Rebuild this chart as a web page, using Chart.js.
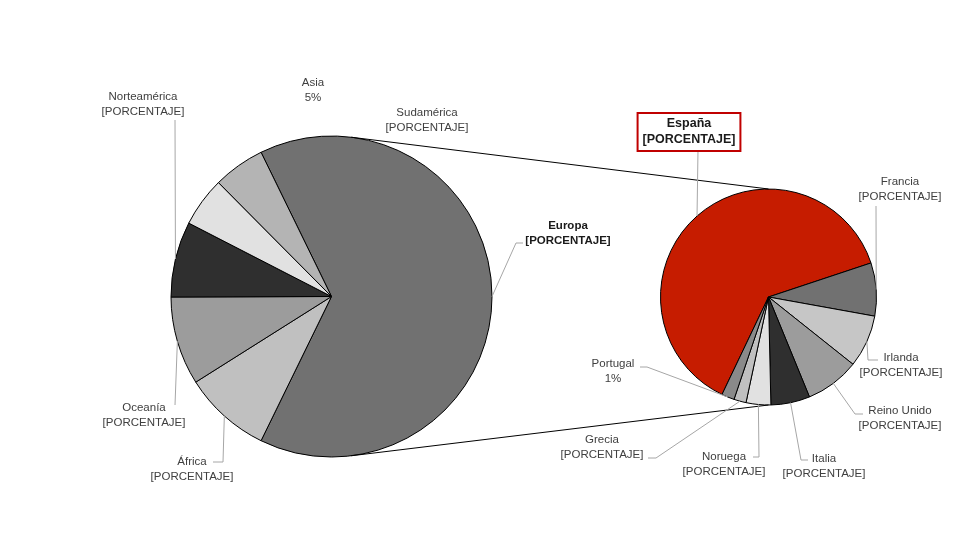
<!DOCTYPE html>
<html><head><meta charset="utf-8">
<script src="https://cdn.jsdelivr.net/npm/chart.js@4.4.0/dist/chart.umd.min.js"></script>
<style>
html,body{margin:0;padding:0;background:#fff;}
#wrap{position:relative;width:980px;height:560px;overflow:hidden;}
#wrap canvas{position:absolute;left:0;top:0;}
</style></head><body>
<div id="wrap"><canvas id="c1" width="980" height="560"></canvas><canvas id="c2" width="980" height="560"></canvas></div>
<script>
// ---- DATA ----
// Main pie (Europa = sum of the secondary pie)
const regionLabels = ['África', 'Oceanía', 'Norteamérica', 'Sudamérica', 'Asia'];
const regionValues = [8.8, 8.9, 7.6, 5.0, 5.2];
const regionValueText = ['[PORCENTAJE]', '[PORCENTAJE]', '[PORCENTAJE]', '[PORCENTAJE]', '5%'];
const europaLabel = 'Europa';
const europaValueText = '[PORCENTAJE]';
// Secondary pie: Europe breakdown
const europeLabels = ['España', 'Francia', 'Irlanda', 'Reino Unido', 'Italia', 'Noruega', 'Grecia', 'Portugal'];
const europeValues = [40.45, 5.12, 5.06, 5.22, 3.76, 2.38, 1.18, 1.23];
const europeValueText = ['[PORCENTAJE]', '[PORCENTAJE]', '[PORCENTAJE]', '[PORCENTAJE]', '[PORCENTAJE]', '[PORCENTAJE]', '[PORCENTAJE]', '1%'];

// ---- STYLE ----
const europaColor = '#717171';
const regionColors = ['#c0c0c0', '#9c9c9c', '#2f2f2f', '#e1e1e1', '#b4b4b4'];
const europeColors = ['#c61c00', '#717171', '#c6c6c6', '#9c9c9c', '#2f2f2f', '#e1e1e1', '#c0c0c0', '#8a8a8a'];

const europaValue = europeValues.reduce((a, b) => a + b, 0);
const mainLabels = [europaLabel].concat(regionLabels);
const mainValues = [europaValue].concat(regionValues);
const mainTotal = mainValues.reduce((a, b) => a + b, 0);
const mainRotation = 90 - (europaValue / mainTotal) * 180;

// label layout (text centre of first line, leader points from label side toward slice)
const FONT = '"Liberation Sans", Arial, sans-serif';
const labelLayout = {
  'Norteamérica': { at: [143, 97], lead: [[175, 120]] },
  'Asia': { at: [313, 83], lead: null },
  'Sudamérica': { at: [427, 113], lead: null },
  'Europa': { at: [568, 226], lead: [[523, 243], [516, 243]], bold: true, size: 11.5 },
  'Oceanía': { at: [144, 408], lead: [[175, 405]] },
  'África': { at: [192, 462], lead: [[213, 462], [223, 462]] },
  'España': { at: [689, 124], lead: [[698, 150]], bold: true, size: 12.5, box: true },
  'Francia': { at: [900, 182], lead: [[876, 206]] },
  'Irlanda': { at: [901, 358], lead: [[878, 360], [868, 360]] },
  'Reino Unido': { at: [900, 411], lead: [[863, 414], [855, 414]] },
  'Italia': { at: [824, 459], lead: [[808, 460], [801, 460]] },
  'Noruega': { at: [724, 457], lead: [[753, 457], [759, 457]] },
  'Grecia': { at: [602, 440], lead: [[648, 458], [656, 458]] },
  'Portugal': { at: [613, 364], lead: [[640, 367], [647, 367]] }
};

function midPoint(arc) {
  const m = (arc.startAngle + arc.endAngle) / 2;
  return [arc.x + Math.cos(m) * arc.outerRadius, arc.y + Math.sin(m) * arc.outerRadius];
}

let chart1;
const overlay = {
  id: 'overlay',
  afterDraw(chart) {
    const ctx = chart.ctx;
    const a1 = chart1.getDatasetMeta(0).data;
    const a2 = chart.getDatasetMeta(0).data;
    const C = a1[0], R = a2[0];
    const cx = C.x, cy = C.y, r = C.outerRadius;
    // connector lines: from top/bottom of secondary pie, tangent to main pie
    ctx.save();
    ctx.strokeStyle = '#000';
    ctx.lineWidth = 1;
    [[-1, -1], [1, 1]].forEach(([s]) => {
      const px = R.x, py = R.y + s * R.outerRadius;
      const dx = px - cx, dy = py - cy;
      const d = Math.hypot(dx, dy);
      const base = Math.atan2(dy, dx);
      const ang = base + s * Math.acos(r / d);
      const tx = cx + Math.cos(ang) * r, ty = cy + Math.sin(ang) * r;
      ctx.beginPath(); ctx.moveTo(tx, ty); ctx.lineTo(px, py); ctx.stroke();
    });
    ctx.restore();

    // labels
    const items = [];
    mainLabels.forEach((lab, i) => items.push({ lab, val: i === 0 ? europaValueText : regionValueText[i - 1], arc: a1[i] }));
    europeLabels.forEach((lab, i) => items.push({ lab, val: europeValueText[i], arc: a2[i] }));
    items.forEach(it => {
      const L = labelLayout[it.lab];
      if (!L) return;
      const size = L.size || 11.5;
      ctx.save();
      if (L.lead) {
        ctx.strokeStyle = '#a6a6a6';
        ctx.lineWidth = 1;
        ctx.beginPath();
        ctx.moveTo(L.lead[0][0], L.lead[0][1]);
        for (let k = 1; k < L.lead.length; k++) ctx.lineTo(L.lead[k][0], L.lead[k][1]);
        const p = midPoint(it.arc);
        ctx.lineTo(p[0], p[1]);
        ctx.stroke();
      }
      ctx.font = (L.bold ? 'bold ' : '') + size + 'px ' + FONT;
      ctx.textAlign = 'center';
      ctx.textBaseline = 'middle';
      const lh = L.box ? 16 : 14.5;
      if (L.box) {
        const w = Math.max(ctx.measureText(it.lab).width, ctx.measureText(it.val).width) + 10;
        ctx.fillStyle = '#fff';
        ctx.fillRect(L.at[0] - w / 2, L.at[1] - 11, w, lh + 22);
        ctx.strokeStyle = '#c00000';
        ctx.lineWidth = 2;
        ctx.strokeRect(L.at[0] - w / 2, L.at[1] - 11, w, lh + 22);
      }
      ctx.fillStyle = L.bold ? '#1a1a1a' : '#404040';
      ctx.fillText(it.lab, L.at[0], L.at[1]);
      ctx.fillText(it.val, L.at[0], L.at[1] + lh);
      ctx.restore();
    });
  }
};

const common = {
  responsive: false,
  devicePixelRatio: 1,
  animation: false,
  events: [],
  plugins: { legend: { display: false }, tooltip: { enabled: false } }
};

chart1 = new Chart(document.getElementById('c1'), {
  type: 'pie',
  data: {
    labels: mainLabels,
    datasets: [{
      data: mainValues,
      backgroundColor: [europaColor].concat(regionColors),
      borderColor: '#000',
      borderWidth: 1
    }]
  },
  options: Object.assign({}, common, {
    rotation: mainRotation,
    radius: 160.5,
    layout: { padding: { left: 0, right: 317, top: 33, bottom: 0 } }
  })
});

new Chart(document.getElementById('c2'), {
  type: 'pie',
  data: {
    labels: europeLabels,
    datasets: [{
      data: europeValues,
      backgroundColor: europeColors,
      borderColor: '#000',
      borderWidth: 1
    }]
  },
  options: Object.assign({}, common, {
    rotation: 205.5,
    radius: 108,
    layout: { padding: { left: 557, right: 0, top: 34, bottom: 0 } }
  }),
  plugins: [overlay]
});
</script>
</body></html>
